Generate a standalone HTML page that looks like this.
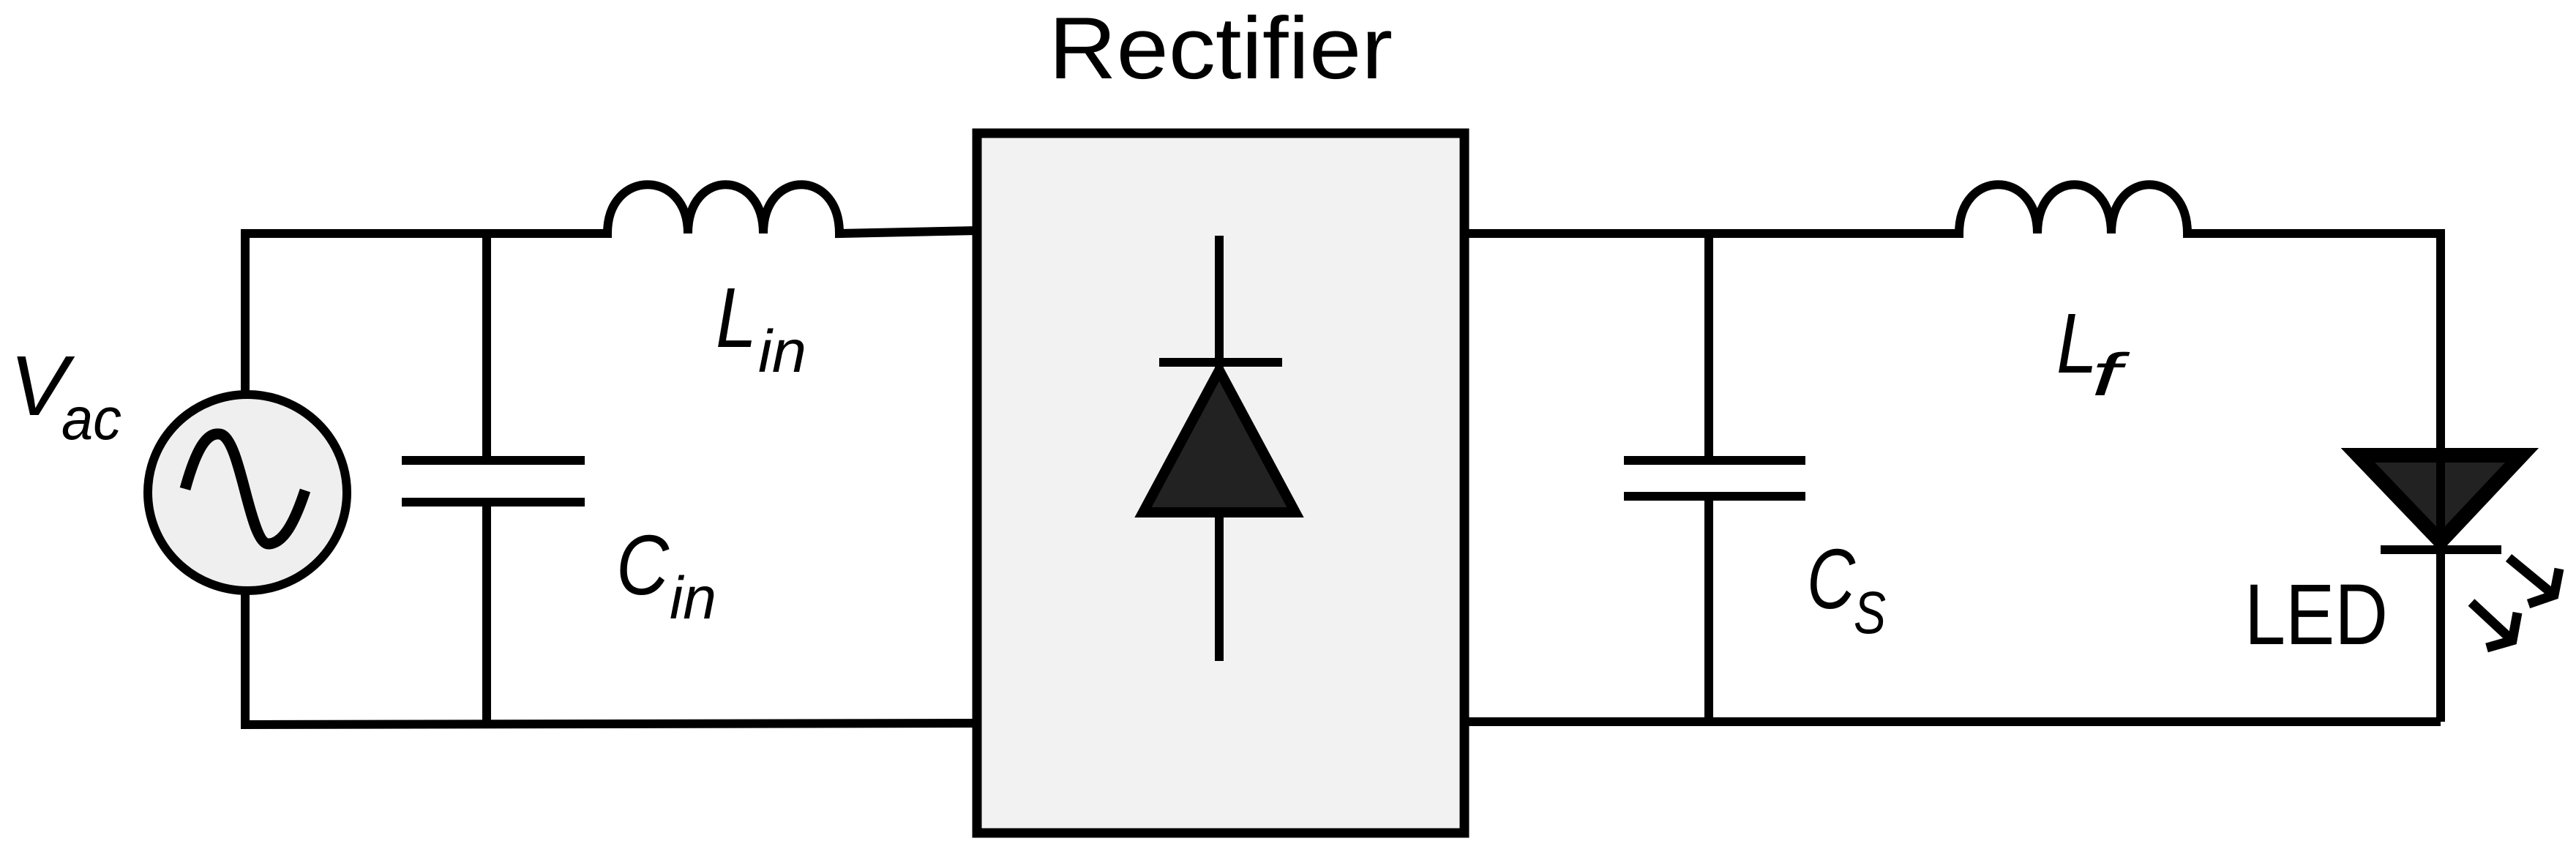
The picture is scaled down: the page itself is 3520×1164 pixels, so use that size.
<!DOCTYPE html>
<html><head><meta charset="utf-8"><style>
html,body{margin:0;padding:0;background:#fff;}
svg{display:block;}
text{font-family:"Liberation Sans",sans-serif;fill:#000;}
.it{font-style:italic;}
</style></head><body>
<svg width="3520" height="1164" viewBox="0 0 3520 1164" xmlns="http://www.w3.org/2000/svg">
<g fill="none" stroke="#000" stroke-width="12" stroke-linecap="butt" stroke-linejoin="miter">
<!-- left loop -->
<polyline points="335,539 335,319 836,319"/>
<polyline points="335,807 335,990 1335,988"/>
<line x1="665" y1="319" x2="665" y2="629"/>
<line x1="665" y1="686" x2="665" y2="990"/>
<line x1="549" y1="629" x2="799" y2="629"/>
<line x1="549" y1="686" x2="799" y2="686"/>
<!-- Lin -->
<path d="M830 319 C830 230,940 230,940 319 C940 230,1043 230,1043 319 C1043 230,1147 230,1147 319 L1335 315"/>
<!-- source -->
<ellipse cx="338" cy="673" rx="136" ry="134" fill="#efefef"/>
<path d="M253 668 C270 606,285 591,300 593 C330 596,340 746,368 743 C390 741,405 706,417 670" stroke-width="15"/>
<!-- rectifier -->
<rect x="1335" y="182" width="666" height="956" fill="#f2f2f2" stroke-width="13"/>
<line x1="1666" y1="322" x2="1666" y2="504"/>
<line x1="1666" y1="700" x2="1666" y2="903"/>
<line x1="1584" y1="495" x2="1752" y2="495"/>
<polygon points="1666,506 1562,700 1770,700" fill="#222" stroke-width="14"/>
<!-- right side -->
<polyline points="2001,319 2683,319"/>
<line x1="2001" y1="986" x2="3335" y2="986"/>
<line x1="2335" y1="319" x2="2335" y2="629"/>
<line x1="2335" y1="678" x2="2335" y2="986"/>
<line x1="2219" y1="629" x2="2467" y2="629"/>
<line x1="2219" y1="678" x2="2467" y2="678"/>
<path d="M2677 319 C2677 230,2784 230,2784 319 C2784 230,2885 230,2885 319 C2885 230,2989 230,2989 319 L3335 319 L3335 986"/>
<!-- LED -->
<polygon points="3222,622 3446,622 3335,740" fill="#222" stroke-width="20"/>
<line x1="3335" y1="600" x2="3335" y2="760" stroke-width="12"/>
<line x1="3253" y1="751" x2="3418" y2="751"/>
<g stroke-width="13">
<line x1="3428" y1="762" x2="3490" y2="813"/>
<polyline points="3497,777 3490,813 3455,825"/>
<line x1="3377" y1="823" x2="3433" y2="875"/>
<polyline points="3440,837 3433,875 3398,885"/>
</g>
</g>
<!-- labels -->
<text x="1433" y="107" font-size="120" textLength="470" lengthAdjust="spacingAndGlyphs">Rectifier</text>
<text class="it" x="13" y="567" font-size="116" textLength="80" lengthAdjust="spacingAndGlyphs">V</text>
<text class="it" x="84" y="600" font-size="82" textLength="82" lengthAdjust="spacingAndGlyphs">ac</text>
<text class="it" x="978" y="474" font-size="116" textLength="56" lengthAdjust="spacingAndGlyphs">L</text>
<text class="it" x="1036" y="508" font-size="82" textLength="66" lengthAdjust="spacingAndGlyphs">in</text>
<text class="it" x="842" y="812" font-size="116" textLength="72" lengthAdjust="spacingAndGlyphs">C</text>
<text class="it" x="915" y="845" font-size="82" textLength="64" lengthAdjust="spacingAndGlyphs">in</text>
<text class="it" x="2810" y="509" font-size="116" textLength="56" lengthAdjust="spacingAndGlyphs">L</text>
<text class="it" x="2858" y="540" font-size="82" textLength="40" lengthAdjust="spacingAndGlyphs">f</text>
<text class="it" x="2469" y="831" font-size="116" textLength="66" lengthAdjust="spacingAndGlyphs">C</text>
<text class="it" x="2533" y="865" font-size="82" textLength="44" lengthAdjust="spacingAndGlyphs">S</text>
<text x="3067" y="880" font-size="118" textLength="196" lengthAdjust="spacingAndGlyphs">LED</text>
</svg>
</body></html>
